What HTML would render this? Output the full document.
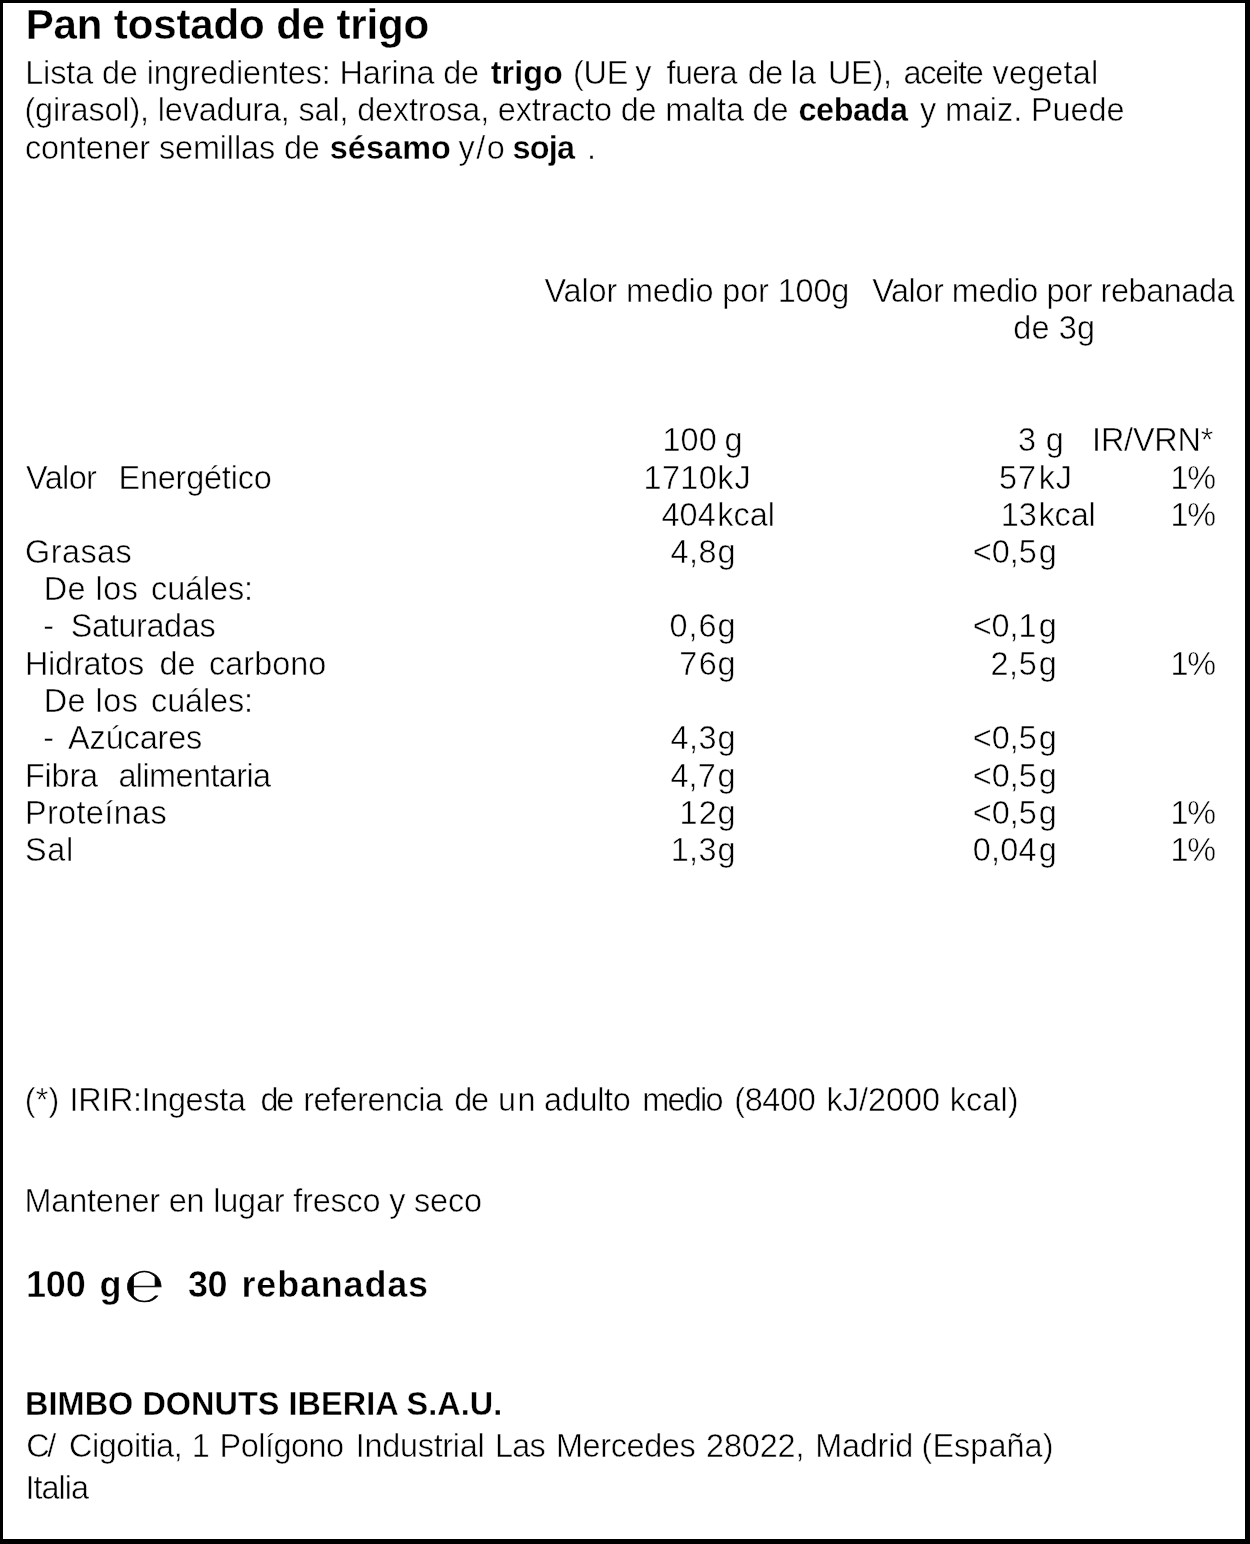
<!DOCTYPE html>
<html lang="es">
<head>
<meta charset="utf-8">
<title>Pan tostado de trigo</title>
<style>
html,body{margin:0;padding:0;background:#fff;}
body{width:1250px;height:1544px;position:relative;overflow:hidden;font-family:"Liberation Sans",Arial,sans-serif;color:#000;}
.frame{position:absolute;left:0;top:0;width:1250px;height:1544px;box-sizing:border-box;border-style:solid;border-color:#000;border-width:3px 5px 5px 3px;}
.t{position:absolute;white-space:pre;line-height:1;margin:0;font-size:32.4px;}
.t{-webkit-text-stroke:0.5px #fff;}
.b{font-weight:bold;-webkit-text-stroke:0.3px #fff;}
</style>
</head>
<body>
<div class="frame"></div>
<div class="t b" style="left:25.70px;top:4.2px;font-size:42px;letter-spacing:-0.129px;">Pan tostado de trigo</div>
<div class="t" style="left:25.20px;top:56.6px;letter-spacing:-0.111px;">Lista de ingredientes: Harina de</div>
<div class="t b" style="left:490.70px;top:56.6px;letter-spacing:0.056px;">trigo</div>
<div class="t" style="left:573.00px;top:56.6px;letter-spacing:-0.239px;transform:scaleY(1.04);transform-origin:0 27.0px;">(UE</div>
<div class="t" style="left:635.20px;top:56.6px;">y</div>
<div class="t" style="left:666.60px;top:56.6px;letter-spacing:-0.703px;">fuera</div>
<div class="t" style="left:747.80px;top:56.6px;letter-spacing:-0.514px;">de</div>
<div class="t" style="left:790.50px;top:56.6px;letter-spacing:0.304px;">la</div>
<div class="t" style="left:828.00px;top:56.6px;letter-spacing:-0.294px;transform:scaleY(1.04);transform-origin:0 27.0px;">UE),</div>
<div class="t" style="left:903.50px;top:56.6px;letter-spacing:-1.244px;">aceite</div>
<div class="t" style="left:992.50px;top:56.6px;letter-spacing:0.192px;">vegetal</div>
<div class="t" style="left:24.40px;top:94.0px;letter-spacing:-0.150px;">(girasol), levadura, sal, dextrosa, extracto de malta de</div>
<div class="t b" style="left:798.50px;top:94.0px;letter-spacing:-0.443px;">cebada</div>
<div class="t" style="left:919.90px;top:94.0px;letter-spacing:-0.052px;">y maiz. Puede</div>
<div class="t" style="left:24.90px;top:131.6px;letter-spacing:-0.113px;">contener semillas de</div>
<div class="t b" style="left:329.70px;top:131.6px;letter-spacing:0.109px;">sésamo</div>
<div class="t" style="left:458.50px;top:131.6px;letter-spacing:1.503px;">y/o</div>
<div class="t b" style="left:512.50px;top:131.6px;letter-spacing:-0.733px;">soja</div>
<div class="t" style="left:587.10px;top:131.6px;">.</div>
<div class="t" style="left:544.50px;top:274.6px;letter-spacing:-0.131px;">Valor medio por 100g</div>
<div class="t" style="left:872.20px;top:274.6px;letter-spacing:-0.427px;">Valor medio por rebanada</div>
<div class="t" style="left:1013.20px;top:312.0px;letter-spacing:0.190px;">de 3g</div>
<div class="t" style="left:26.10px;top:461.7px;letter-spacing:-0.606px;">Valor</div>
<div class="t" style="left:118.50px;top:461.7px;letter-spacing:-0.182px;">Energético</div>
<div class="t" style="left:25.10px;top:536.0px;letter-spacing:0.439px;">Grasas</div>
<div class="t" style="left:43.70px;top:573.2px;letter-spacing:0.409px;">De</div>
<div class="t" style="left:95.50px;top:573.2px;letter-spacing:0.495px;">los</div>
<div class="t" style="left:151.10px;top:573.2px;letter-spacing:-0.105px;">cuáles:</div>
<div class="t" style="left:43.70px;top:684.8px;letter-spacing:0.409px;">De</div>
<div class="t" style="left:95.50px;top:684.8px;letter-spacing:0.495px;">los</div>
<div class="t" style="left:151.10px;top:684.8px;letter-spacing:-0.105px;">cuáles:</div>
<div class="t" style="left:43.30px;top:610.4px;">-</div>
<div class="t" style="left:70.70px;top:610.4px;letter-spacing:-0.333px;">Saturadas</div>
<div class="t" style="left:24.90px;top:647.6px;letter-spacing:-0.202px;">Hidratos</div>
<div class="t" style="left:159.50px;top:647.6px;letter-spacing:-0.014px;">de</div>
<div class="t" style="left:209.10px;top:647.6px;letter-spacing:0.027px;">carbono</div>
<div class="t" style="left:43.30px;top:722.3px;">-</div>
<div class="t" style="left:68.10px;top:722.3px;letter-spacing:-0.118px;">Azúcares</div>
<div class="t" style="left:24.90px;top:759.5px;letter-spacing:-0.146px;">Fibra</div>
<div class="t" style="left:118.40px;top:759.5px;letter-spacing:-0.571px;">alimentaria</div>
<div class="t" style="left:24.90px;top:796.6px;letter-spacing:0.394px;">Proteínas</div>
<div class="t" style="left:25.10px;top:833.9px;letter-spacing:0.591px;">Sal</div>
<div class="t" style="left:662.50px;top:423.9px;letter-spacing:0.086px;transform:scaleY(1.04);transform-origin:0 27.0px;">100</div>
<div class="t" style="left:724.60px;top:423.9px;">g</div>
<div class="t" style="left:643.60px;top:461.7px;letter-spacing:0.353px;transform:scaleY(1.04);transform-origin:0 27.0px;">1710</div>
<div class="t" style="left:717.30px;top:461.7px;letter-spacing:1.105px;">kJ</div>
<div class="t" style="left:661.50px;top:498.9px;letter-spacing:0.086px;transform:scaleY(1.04);transform-origin:0 27.0px;">404</div>
<div class="t" style="left:717.30px;top:498.9px;letter-spacing:0.032px;">kcal</div>
<div class="t" style="left:670.50px;top:536.0px;letter-spacing:0.443px;transform:scaleY(1.04);transform-origin:0 27.0px;">4,8</div>
<div class="t" style="left:717.60px;top:536.0px;">g</div>
<div class="t" style="left:669.50px;top:610.4px;letter-spacing:0.943px;transform:scaleY(1.04);transform-origin:0 27.0px;">0,6</div>
<div class="t" style="left:717.60px;top:610.4px;">g</div>
<div class="t" style="left:679.20px;top:647.6px;letter-spacing:1.486px;transform:scaleY(1.04);transform-origin:0 27.0px;">76</div>
<div class="t" style="left:717.60px;top:647.6px;">g</div>
<div class="t" style="left:670.50px;top:722.3px;letter-spacing:0.443px;transform:scaleY(1.04);transform-origin:0 27.0px;">4,3</div>
<div class="t" style="left:717.60px;top:722.3px;">g</div>
<div class="t" style="left:670.50px;top:759.5px;letter-spacing:0.093px;transform:scaleY(1.04);transform-origin:0 27.0px;">4,7</div>
<div class="t" style="left:717.60px;top:759.5px;">g</div>
<div class="t" style="left:679.60px;top:796.6px;letter-spacing:1.086px;transform:scaleY(1.04);transform-origin:0 27.0px;">12</div>
<div class="t" style="left:717.60px;top:796.6px;">g</div>
<div class="t" style="left:670.70px;top:833.9px;letter-spacing:0.343px;transform:scaleY(1.04);transform-origin:0 27.0px;">1,3</div>
<div class="t" style="left:717.60px;top:833.9px;">g</div>
<div class="t" style="left:1018.10px;top:423.9px;transform:scaleY(1.04);transform-origin:0 27.0px;">3</div>
<div class="t" style="left:1045.70px;top:423.9px;">g</div>
<div class="t" style="left:999.00px;top:461.7px;letter-spacing:0.986px;transform:scaleY(1.04);transform-origin:0 27.0px;">57</div>
<div class="t" style="left:1038.70px;top:461.7px;letter-spacing:0.805px;">kJ</div>
<div class="t" style="left:1000.70px;top:498.9px;letter-spacing:-0.014px;transform:scaleY(1.04);transform-origin:0 27.0px;">13</div>
<div class="t" style="left:1038.40px;top:498.9px;letter-spacing:-0.068px;">kcal</div>
<div class="t" style="left:972.70px;top:536.0px;letter-spacing:0.024px;transform:scaleY(1.04);transform-origin:0 27.0px;">&lt;0,5</div>
<div class="t" style="left:1038.70px;top:536.0px;">g</div>
<div class="t" style="left:972.70px;top:610.4px;transform:scaleY(1.04);transform-origin:0 27.0px;">&lt;0,1</div>
<div class="t" style="left:1038.70px;top:610.4px;">g</div>
<div class="t" style="left:990.50px;top:647.6px;letter-spacing:0.593px;transform:scaleY(1.04);transform-origin:0 27.0px;">2,5</div>
<div class="t" style="left:1038.70px;top:647.6px;">g</div>
<div class="t" style="left:972.70px;top:722.3px;letter-spacing:0.024px;transform:scaleY(1.04);transform-origin:0 27.0px;">&lt;0,5</div>
<div class="t" style="left:1038.70px;top:722.3px;">g</div>
<div class="t" style="left:972.70px;top:759.5px;letter-spacing:0.024px;transform:scaleY(1.04);transform-origin:0 27.0px;">&lt;0,5</div>
<div class="t" style="left:1038.70px;top:759.5px;">g</div>
<div class="t" style="left:972.70px;top:796.6px;letter-spacing:0.024px;transform:scaleY(1.04);transform-origin:0 27.0px;">&lt;0,5</div>
<div class="t" style="left:1038.70px;top:796.6px;">g</div>
<div class="t" style="left:972.70px;top:833.9px;letter-spacing:0.258px;transform:scaleY(1.04);transform-origin:0 27.0px;">0,04</div>
<div class="t" style="left:1038.70px;top:833.9px;">g</div>
<div class="t" style="left:1092.10px;top:423.9px;letter-spacing:-0.180px;transform:scaleY(1.04);transform-origin:0 27.0px;">IR/VRN*</div>
<div class="t" style="left:1170.60px;top:461.7px;letter-spacing:-1.314px;transform:scaleY(1.04);transform-origin:0 27.0px;">1%</div>
<div class="t" style="left:1170.60px;top:498.9px;letter-spacing:-1.314px;transform:scaleY(1.04);transform-origin:0 27.0px;">1%</div>
<div class="t" style="left:1170.60px;top:647.6px;letter-spacing:-1.314px;transform:scaleY(1.04);transform-origin:0 27.0px;">1%</div>
<div class="t" style="left:1170.60px;top:796.6px;letter-spacing:-1.314px;transform:scaleY(1.04);transform-origin:0 27.0px;">1%</div>
<div class="t" style="left:1170.60px;top:833.9px;letter-spacing:-1.314px;transform:scaleY(1.04);transform-origin:0 27.0px;">1%</div>
<div class="t" style="left:24.70px;top:1083.5px;letter-spacing:0.204px;">(*)</div>
<div class="t" style="left:69.50px;top:1083.5px;letter-spacing:-0.338px;">IRIR:Ingesta</div>
<div class="t" style="left:260.40px;top:1083.5px;letter-spacing:-2.114px;">de</div>
<div class="t" style="left:303.20px;top:1083.5px;letter-spacing:-0.480px;">referencia</div>
<div class="t" style="left:454.30px;top:1083.5px;letter-spacing:-1.214px;">de</div>
<div class="t" style="left:498.10px;top:1083.5px;letter-spacing:1.386px;">un</div>
<div class="t" style="left:544.10px;top:1083.5px;letter-spacing:-0.328px;">adulto</div>
<div class="t" style="left:642.30px;top:1083.5px;letter-spacing:-1.777px;">medio</div>
<div class="t" style="left:734.20px;top:1083.5px;letter-spacing:-0.332px;transform:scaleY(1.04);transform-origin:0 27.0px;">(8400</div>
<div class="t" style="left:826.60px;top:1083.5px;letter-spacing:-0.022px;">kJ/2000</div>
<div class="t" style="left:949.80px;top:1083.5px;letter-spacing:0.075px;">kcal)</div>
<div class="t" style="left:24.50px;top:1184.5px;letter-spacing:-0.176px;">Mantener en lugar fresco y seco</div>
<div class="t b" style="left:25.10px;top:1388.0px;letter-spacing:0.057px;transform:scaleY(1.04);transform-origin:0 27.0px;">BIMBO DONUTS IBERIA S.A.U.</div>
<div class="t" style="left:26.30px;top:1430.0px;letter-spacing:-2.391px;transform:scaleY(1.04);transform-origin:0 27.0px;">C/</div>
<div class="t" style="left:68.90px;top:1430.0px;letter-spacing:-0.403px;">Cigoitia,</div>
<div class="t" style="left:191.70px;top:1430.0px;transform:scaleY(1.04);transform-origin:0 27.0px;">1</div>
<div class="t" style="left:219.50px;top:1430.0px;letter-spacing:-0.465px;">Polígono</div>
<div class="t" style="left:355.80px;top:1430.0px;letter-spacing:-0.281px;">Industrial</div>
<div class="t" style="left:495.00px;top:1430.0px;letter-spacing:-0.764px;">Las</div>
<div class="t" style="left:555.90px;top:1430.0px;letter-spacing:-0.346px;">Mercedes</div>
<div class="t" style="left:706.00px;top:1430.0px;letter-spacing:-0.114px;transform:scaleY(1.04);transform-origin:0 27.0px;">28022,</div>
<div class="t" style="left:815.20px;top:1430.0px;letter-spacing:-0.198px;">Madrid</div>
<div class="t" style="left:921.60px;top:1430.0px;letter-spacing:0.065px;">(España)</div>
<div class="t b" style="left:25.90px;top:1267.2px;font-size:36px;letter-spacing:-0.071px;transform:scaleY(1.04);transform-origin:0 30.0px;-webkit-text-stroke:0.45px #fff;">100</div>
<div class="t b" style="left:99.40px;top:1267.2px;font-size:36px;-webkit-text-stroke:0.45px #fff;">g</div>
<div class="t b" style="left:188.10px;top:1267.2px;font-size:36px;letter-spacing:-0.621px;transform:scaleY(1.04);transform-origin:0 30.0px;-webkit-text-stroke:0.45px #fff;">30</div>
<div class="t b" style="left:241.50px;top:1267.2px;font-size:36px;letter-spacing:0.817px;-webkit-text-stroke:0.45px #fff;">rebanadas</div>
<div class="t" style="left:25.50px;top:1471.5px;letter-spacing:-1.001px;">Italia</div>
<svg class="es" width="60" height="50" viewBox="0 0 60 50" style="position:absolute;left:115px;top:1260px;overflow:visible"><text transform="translate(10.2,40.8) scale(1,0.955)" x="0" y="0" font-family="'Noto Sans CJK SC','Noto Sans CJK JP',sans-serif" font-size="42.6" fill="#000" stroke="#000" stroke-width="0.7">℮</text></svg>
</body>
</html>
